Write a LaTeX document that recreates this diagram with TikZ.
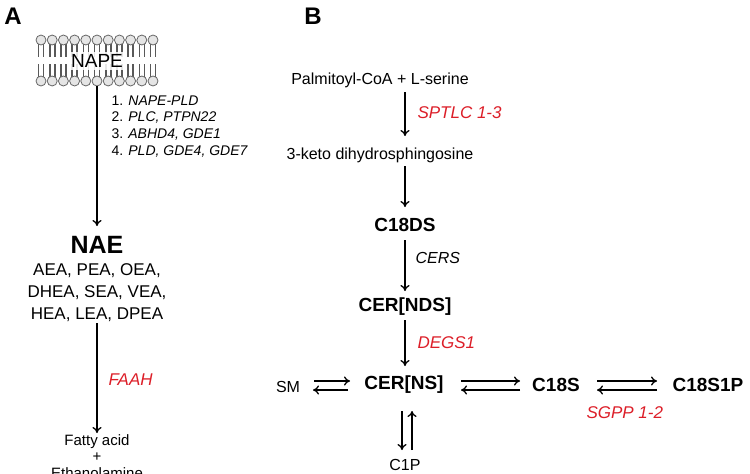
\documentclass[tikz,border=0pt]{standalone}
\usepackage{fontspec}
\setmainfont{Liberation Sans}
\usetikzlibrary{arrows.meta}
\definecolor{rd}{RGB}{220,30,40}
\begin{document}
\begin{tikzpicture}[x=1pt,y=-1pt,
 ar/.style={-{To[length=6pt,width=9pt]},line width=1.3pt},
 lab/.style={font=\fontsize{14}{15}\selectfont\itshape,anchor=west},
 red/.style={font=\fontsize{17}{19}\selectfont\itshape,text=rd,anchor=west},
 big/.style={font=\fontsize{25}{27}\selectfont\bfseries},
 bold/.style={font=\fontsize{19}{21}\selectfont\bfseries},
 txt/.style={font=\fontsize{16}{18}\selectfont},
 head/.style={circle,draw=gray!80!black,fill=gray!20,inner sep=0,minimum size=10pt,line width=0.8pt}]
\useasboundingbox (0,0) rectangle (750,474);
\node[font=\fontsize{24}{26}\selectfont\bfseries] (A) at (13,16) {A};
\node[font=\fontsize{24}{26}\selectfont\bfseries] (B) at (313,16) {B};
% membrane
\foreach \i in {0,...,10}{
  \pgfmathsetmacro\xx{41+11.2*\i}
  \draw[gray!70!black,line width=1.6pt] (\xx-2.5,44) -- (\xx-2.5,57) (\xx+2.5,44) -- (\xx+2.5,57);
  \draw[gray!70!black,line width=1.6pt] (\xx-2.5,64) -- (\xx-2.5,77) (\xx+2.5,64) -- (\xx+2.5,77);
  \node[head] at (\xx,40) {};
  \node[head] at (\xx,81) {};
}
\node[fill=white,fill opacity=0.85,text opacity=1,font=\fontsize{19}{21}\selectfont,inner sep=2pt] (nape) at (97,61) {NAPE};
\node[big] (nae) at (97,245) {NAE};
\draw[ar] (97,86) -- (97,226);
\node[lab] at (108,101) {\upshape 1. \itshape NAPE-PLD};
\node[lab] at (108,118) {\upshape 2. \itshape PLC, PTPN22};
\node[lab] at (108,135) {\upshape 3. \itshape ABHD4, GDE1};
\node[lab] at (108,152) {\upshape 4. \itshape PLD, GDE4, GDE7};
\node[font=\fontsize{17}{19}\selectfont,align=center] (list) at (97,293) {AEA, PEA, OEA,\\[3pt]DHEA, SEA, VEA,\\[3pt]HEA, LEA, DPEA};
\node[font=\fontsize{15}{16.5}\selectfont,align=center,anchor=north,inner sep=1pt] (fa) at (97,433) {Fatty acid\\+\\Ethanolamine};
\draw[ar] (97,323) -- (fa.north);
\node[red] at (105,380) {FAAH};
% B
\node[txt] (pc) at (380,80) {Palmitoyl-CoA + L-serine};
\node[txt] (keto) at (380,155) {3-keto dihydrosphingosine};
\node[bold] (c18ds) at (405,225) {C18DS};
\node[bold] (nds) at (405,307) {CER[NDS]};
\node[bold] (ns) at (404,385) {CER[NS]};
\node[bold] (c18s) at (556,385) {C18S};
\node[bold] (c18s1p) at (708,385) {C18S1P};
\node[txt] (sm) at (288,387) {SM};
\node[txt] (c1p) at (405,465) {C1P};
\draw[ar] (405,92) -- (405,136);
\draw[ar] (405,166) -- (405,207);
\draw[ar] (405,240) -- (405,291);
\draw[ar] (405,320) -- (405,366);
\node[red] at (414,113) {SPTLC 1-3};
\node[lab,font=\fontsize{16}{18}\selectfont\itshape] at (412,258) {CERS};
\node[red] at (414,343) {DEGS1};
\node[red] at (583,413) {SGPP 1-2};
\draw[ar] (314,381) -- (350,381);
\draw[ar] (348,390) -- (313,390);
\draw[ar] (461,381) -- (520,381);
\draw[ar] (520,390) -- (461,390);
\draw[ar] (597,381) -- (657,381);
\draw[ar] (657,390) -- (597,390);
\draw[ar] (402,411) -- (402,450);
\draw[ar] (412,450) -- (412,411);
\end{tikzpicture}
\end{document}
